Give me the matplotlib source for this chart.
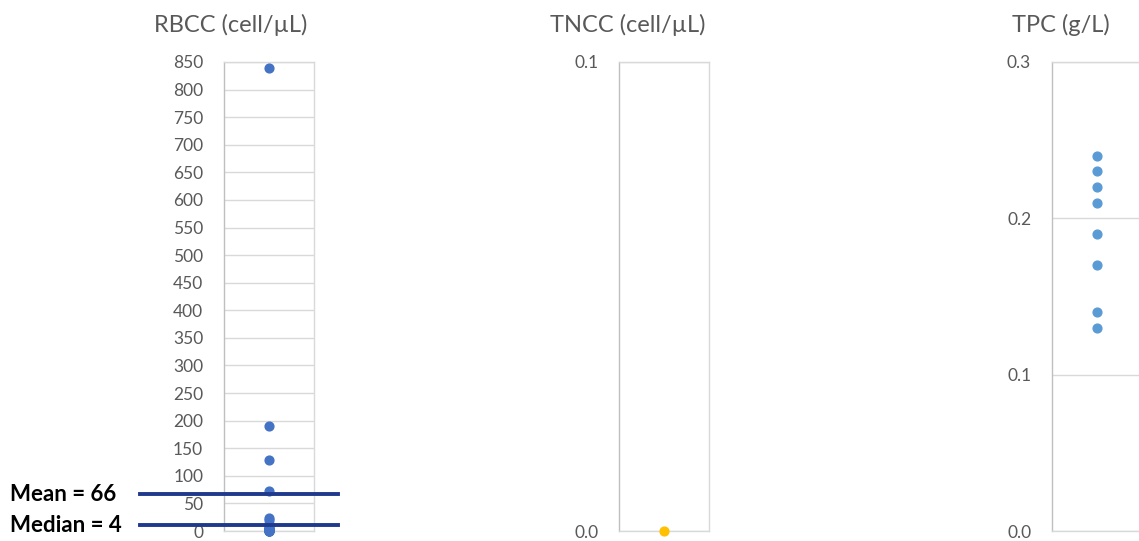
import numpy as np
import matplotlib.pyplot as plt
from matplotlib.lines import Line2D

plt.rcParams['font.family'] = ['Lato', 'DejaVu Sans']

# 数据
rbcc = [840, 190, 128, 72, 24, 20, 12, 8, 5, 4, 4, 3, 2, 1, 1, 0, 0, 0, 0]
tncc = [0]
tpc = [0.24, 0.23, 0.22, 0.21, 0.19, 0.17, 0.14, 0.13]

titles = ['RBCC (cell/µL)', 'TNCC (cell/µL)', 'TPC (g/L)']
stat_labels = ['Mean = 66', 'Median = 4']
stat_lines = [67, 10]   # drawn positions of the two lines

W, H = 1139, 541
fig = plt.figure(figsize=(W / 100, H / 100), dpi=100)

def px(x0, y0, w, h):
    return [x0 / W, 1 - (y0 + h) / H, w / W, h / H]

grey_txt = '#595959'
grid_c = '#D9D9D9'

def style(ax, ticks, fmt):
    ax.set_xlim(0, 2)
    ax.set_xticks([])
    ax.set_yticks(ticks)
    ax.set_yticklabels([fmt.format(t) for t in ticks])
    ax.tick_params(axis='y', length=0, pad=15, labelsize=12.5, labelcolor=grey_txt)
    ax.yaxis.grid(True, color=grid_c, lw=1)
    ax.set_axisbelow(True)
    for s in ax.spines.values():
        s.set_color(grid_c)
        s.set_linewidth(1)
    ax.spines['left'].set_color('#BFBFBF')

# RBCC
ax1 = fig.add_axes(px(224, 62, 90, 469))
ax1.set_ylim(0, 850)
style(ax1, np.arange(0, 851, 50), '{:.0f}')
ax1.scatter([1] * len(rbcc), rbcc, s=40, color='#4472C4', zorder=3, clip_on=False)

# TNCC
ax2 = fig.add_axes(px(619, 62, 90, 469))
ax2.set_ylim(0, 0.1)
style(ax2, [0, 0.1], '{:.1f}')
ax2.scatter([1] * len(tncc), tncc, s=40, color='#FFC000', zorder=3, clip_on=False)

# TPC
ax3 = fig.add_axes(px(1052, 62, 90, 469))
ax3.set_ylim(0, 0.3)
style(ax3, [0, 0.1, 0.2, 0.3], '{:.1f}')
ax3.scatter([1] * len(tpc), tpc, s=40, color='#5B9BD5', zorder=3, clip_on=False)

# titles
for x, t in zip([231, 628, 1061], titles):
    fig.text(x / W, 1 - 25 / H, t, ha='center', va='center', fontsize=17, color=grey_txt)

# mean / median lines
for lab, v in zip(stat_labels, stat_lines):
    y = ax1.transData.transform((0, v))[1]
    yf = y / fig.bbox.height
    fig.add_artist(Line2D([140 / W, 338 / W], [yf, yf], color='#1F3A8C', lw=2.8, zorder=5))
    fig.text(10 / W, yf, lab, ha='left', va='center', fontsize=16, fontweight='bold', color='black')

fig.savefig('out.png', dpi=100)
